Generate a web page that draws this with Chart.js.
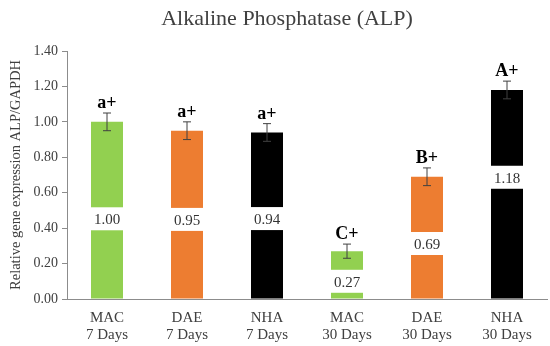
<!DOCTYPE html>
<html>
<head>
<meta charset="utf-8">
<script src="https://cdn.jsdelivr.net/npm/chart.js@4"></script>
<style>
  html, body { margin: 0; padding: 0; background: #fff; }
  #wrap { width: 550px; height: 346px; }
</style>
</head>
<body>
<div id="wrap"><canvas id="alpChart"></canvas></div>
<script>
// data
const categories = [['MAC', '7 Days'], ['DAE', '7 Days'], ['NHA', '7 Days'], ['MAC', '30 Days'], ['DAE', '30 Days'], ['NHA', '30 Days']];
const values = [1.00, 0.95, 0.94, 0.27, 0.69, 1.18];
const errors = [0.05, 0.05, 0.05, 0.04, 0.05, 0.05];
const letters = ['a+', 'a+', 'a+', 'C+', 'B+', 'A+'];
const barColors = ['#92d050', '#ed7d31', '#000000', '#92d050', '#ed7d31', '#000000'];
const yTicks = [0, 0.2, 0.4, 0.6, 0.8, 1.0, 1.2, 1.4];

const serif = '"Liberation Serif", "DejaVu Serif", serif';

// error bars, letters, value boxes, title
const extrasPlugin = {
    id: 'extras',
    afterDatasetsDraw(chart, args, opts) {
        const ctx = chart.ctx;
        const meta = chart.getDatasetMeta(0);
        const y = chart.scales.y;
        ctx.save();
        meta.data.forEach((bar, i) => {
            const v = values[i];
            const half = bar.width / 2;
            // value label in a white gap
            const ly = y.getPixelForValue(v * opts.labelAt[i]);
            ctx.fillStyle = '#ffffff';
            ctx.fillRect(bar.x - half - 1, ly - 12, bar.width + 2, 23);
            ctx.fillStyle = '#333333';
            ctx.font = '15px ' + serif;
            ctx.textAlign = 'center';
            ctx.textBaseline = 'middle';
            ctx.fillText(v.toFixed(2), bar.x, ly + 1);
            // error bar
            const yt = y.getPixelForValue(v + errors[i]);
            const yb = y.getPixelForValue(v - errors[i]);
            ctx.strokeStyle = '#404040';
            ctx.lineWidth = 1;
            ctx.beginPath();
            ctx.moveTo(bar.x, yt); ctx.lineTo(bar.x, yb);
            ctx.moveTo(bar.x - 4, yt); ctx.lineTo(bar.x + 4, yt);
            ctx.moveTo(bar.x - 4, yb); ctx.lineTo(bar.x + 4, yb);
            ctx.stroke();
            // significance letter
            ctx.fillStyle = '#000000';
            ctx.font = 'bold 18px ' + serif;
            ctx.textBaseline = 'alphabetic';
            ctx.fillText(letters[i], bar.x, yt - 5);
        });
        ctx.fillStyle = '#404040';
        ctx.font = '22px ' + serif;
        ctx.textAlign = 'center';
        ctx.textBaseline = 'middle';
        ctx.fillText('Alkaline Phosphatase (ALP)', 287, 19);
        ctx.restore();
    }
};

new Chart('alpChart', {
    type: 'bar',
    data: {
        labels: categories,
        datasets: [{
            data: values,
            backgroundColor: barColors,
            barPercentage: 0.4,
            categoryPercentage: 1.0
        }]
    },
    options: {
        responsive: true,
        maintainAspectRatio: false,
        animation: false,
        layout: { padding: { top: 51, right: 3, left: 7, bottom: 0 } },
        plugins: {
            legend: { display: false },
            tooltip: { enabled: false },
            extras: { labelAt: [0.45, 0.47, 0.48, 0.36, 0.45, 0.58] }
        },
        scales: {
            x: {
                grid: { display: false, drawTicks: false },
                border: { color: '#8c8c8c', width: 1 },
                ticks: { color: '#404040', font: { family: serif, size: 15, lineHeight: 1.1 }, padding: 11, maxRotation: 0 },
                afterFit: s => { s.height = 47; }
            },
            y: {
                min: 0,
                max: 1.4,
                afterBuildTicks: s => { s.ticks = yTicks.map(v => ({ value: v })); },
                grid: { drawOnChartArea: false, drawTicks: true, tickLength: 5, color: '#8c8c8c' },
                border: { color: '#8c8c8c', width: 1 },
                ticks: {
                    color: '#404040',
                    font: { family: serif, size: 14 },
                    padding: 4,
                    callback: v => v.toFixed(2)
                },
                title: {
                    display: true,
                    text: 'Relative gene expression ALP/GAPDH',
                    color: '#404040',
                    font: { family: serif, size: 14.5 },
                    padding: { top: 0, bottom: 2 }
                },
                afterFit: s => { s.width = 60; }
            }
        }
    },
    plugins: [extrasPlugin]
});
</script>
</body>
</html>
